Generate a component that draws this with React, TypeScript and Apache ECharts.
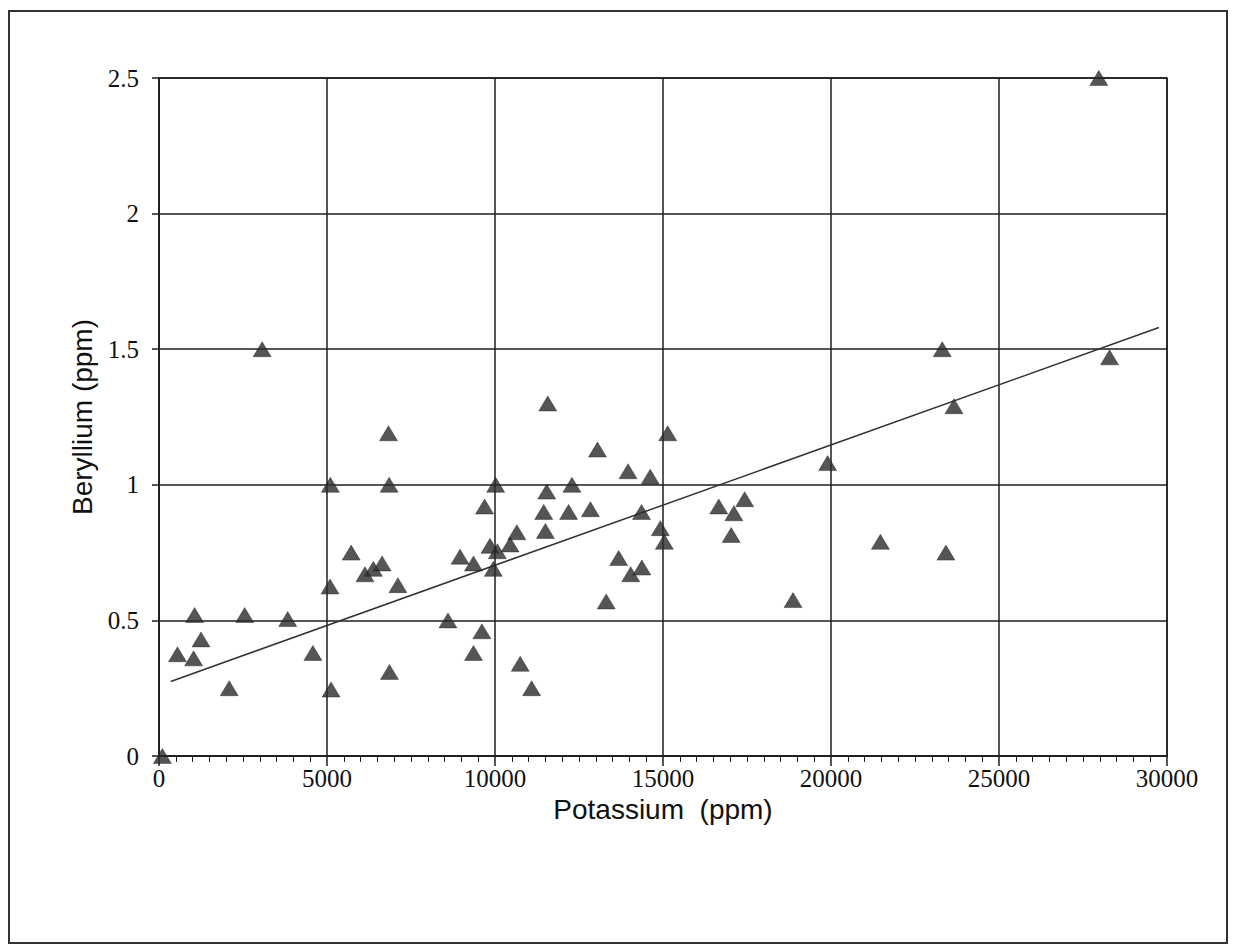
import React, { useEffect, useRef } from "react";
import * as echarts from "echarts";

// Potassium (ppm) vs Beryllium (ppm) sample values
const potassium = [
  100, 550, 1060, 1030, 1250, 2090, 2550, 3070, 3830, 4580,
  5100, 5090, 5120, 5720, 6130, 6380, 6640, 6830, 6850, 6860,
  7110, 8600, 8960, 9360, 9360, 9610, 9690, 9850, 9950, 10020,
  10070, 10450, 10650, 10750, 11090, 11570, 11540, 11450, 11500, 12190,
  12290, 12840, 13050, 13680, 13960, 14040, 14360, 14370, 14620, 14920,
  15040, 15140, 13310, 16660, 17430, 17110, 17030, 18870, 19900, 21470,
  23420, 23310, 23660, 27970, 28290,
];
const beryllium = [
  0, 0.375, 0.52, 0.36, 0.43, 0.25, 0.52, 1.5, 0.505, 0.38,
  1.0, 0.625, 0.245, 0.75, 0.67, 0.69, 0.71, 1.19, 1.0, 0.31,
  0.63, 0.5, 0.735, 0.71, 0.38, 0.46, 0.92, 0.775, 0.69, 1.0,
  0.755, 0.78, 0.825, 0.34, 0.25, 1.3, 0.975, 0.9, 0.83, 0.9,
  1.0, 0.91, 1.13, 0.73, 1.05, 0.67, 0.9, 0.695, 1.03, 0.84,
  0.79, 1.19, 0.57, 0.92, 0.947, 0.895, 0.815, 0.575, 1.08, 0.79,
  0.75, 1.5, 1.29, 2.5, 1.47,
];

// Linear trend line end points
const trendX = [350, 29760];
const trendY = [0.275, 1.58];

// Tick values and labels
const xTickValues = [0, 5000, 10000, 15000, 20000, 25000, 30000];
const xTickLabels = ["0", "5000", "10000", "15000", "20000", "25000", "30000"];
const yTickValues = [0, 0.5, 1, 1.5, 2, 2.5];
const yTickLabels = ["0", "0.5", "1", "1.5", "2", "2.5"];

const xTitle = "Potassium  (ppm)";
const yTitle = "Beryllium (ppm)";

export default function App() {
  const ref = useRef<HTMLDivElement>(null);

  useEffect(() => {
    document.body.style.margin = "0";
    if (!ref.current) return;
    const chart = echarts.init(ref.current, undefined, { renderer: "svg" });
    const ink = "#1e1e1e";
    const serif = "'Liberation Serif', 'Times New Roman', serif";
    const sans = "'Liberation Sans', Arial, sans-serif";

    const points = potassium.map((k, i) => [k, beryllium[i]]);
    const trend = trendX.map((x, i) => [x, trendY[i]]);

    chart.setOption({
      animation: false,
      backgroundColor: "#ffffff",
      grid: {
        left: 159,
        top: 78,
        width: 1008,
        height: 678,
        show: true,
        borderColor: ink,
        borderWidth: 1.5,
        backgroundColor: "transparent",
      },
      xAxis: {
        type: "value",
        min: 0,
        max: 30000,
        interval: 5000,
        axisLine: { show: true, onZero: false, lineStyle: { color: ink, width: 1.5 } },
        axisTick: { show: true, inside: false, length: 10, lineStyle: { color: ink, width: 1.5 } },
        minorTick: { show: true, splitNumber: 10, length: 6, lineStyle: { color: ink, width: 1 } },
        splitLine: { show: true, lineStyle: { color: ink, width: 1.5 } },
        axisLabel: {
          margin: 10,
          fontFamily: serif,
          fontSize: 25,
          color: "#111111",
          formatter: (v: number) => {
            const i = xTickValues.indexOf(v);
            return i >= 0 ? xTickLabels[i] : "";
          },
        },
        name: xTitle,
        nameLocation: "middle",
        nameGap: 31,
        nameTextStyle: { fontFamily: sans, fontSize: 28, color: "#111111" },
      },
      yAxis: {
        type: "value",
        min: 0,
        max: 2.5,
        interval: 0.5,
        axisLine: { show: true, onZero: false, lineStyle: { color: ink, width: 1.5 } },
        axisTick: { show: true, inside: false, length: 7, lineStyle: { color: ink, width: 1.5 } },
        splitLine: { show: true, lineStyle: { color: ink, width: 1.5 } },
        axisLabel: {
          margin: 20,
          fontFamily: serif,
          fontSize: 25,
          color: "#111111",
          formatter: (v: number) => {
            const i = yTickValues.findIndex((t) => Math.abs(t - v) < 1e-9);
            return i >= 0 ? yTickLabels[i] : "";
          },
        },
        name: yTitle,
        nameLocation: "middle",
        nameGap: 60,
        nameTextStyle: { fontFamily: sans, fontSize: 28, color: "#111111" },
      },
      graphic: [
        {
          type: "rect",
          shape: { x: 9, y: 11, width: 1218, height: 932 },
          style: { fill: "none", stroke: "#333333", lineWidth: 2 },
          silent: true,
        },
      ],
      series: [
        {
          type: "line",
          data: trend,
          symbol: "none",
          lineStyle: { color: "#333333", width: 1.5 },
          z: 3,
        },
        {
          type: "scatter",
          data: points,
          symbol: "triangle",
          symbolSize: [18, 15],
          itemStyle: { color: "#2b2b2b", borderColor: "#1a1a1a", borderWidth: 0.5 },
          clip: false,
          z: 4,
        },
      ],
    });

    return () => chart.dispose();
  }, []);

  return <div ref={ref} style={{ width: 1233, height: 951 }} />;
}
